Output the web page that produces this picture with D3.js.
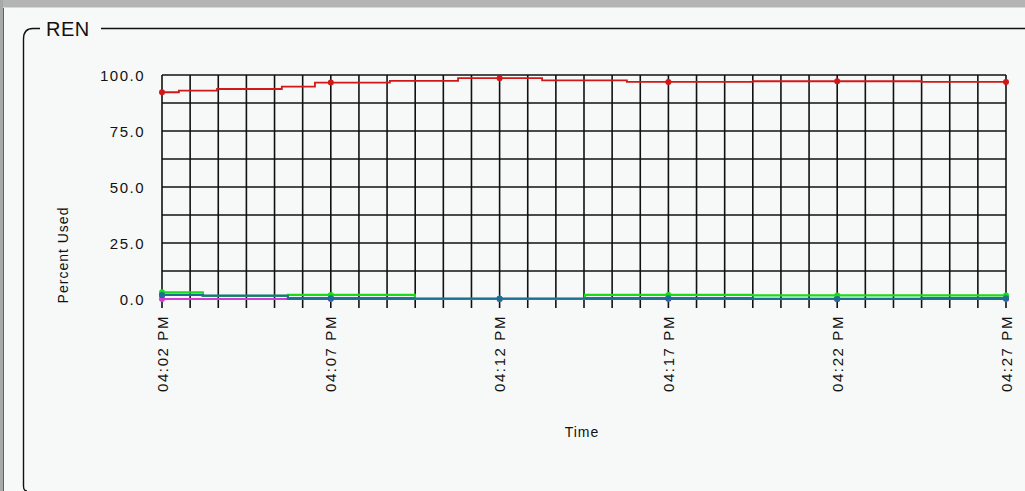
<!DOCTYPE html>
<html><head><meta charset="utf-8">
<script src="https://cdn.jsdelivr.net/npm/d3@7"></script>
<style>
html,body{margin:0;padding:0;background:#f6f9f7;}
text{font-family:"Liberation Sans",Arial,sans-serif;fill:#111;}
</style></head><body>
<svg id="chart" width="1025" height="491"></svg>
<script>
// ---- data ----
const chartTitle = "REN";
const yTickValues = [0, 25, 50, 75, 100];
const xTickLabelMinutes = [0, 5, 10, 15, 20, 25];   // minutes after 04:02 PM
const redMinutes = [0, 0.5, 1.63, 3.55, 4.53, 6.75, 8.77, 11.26, 13.77, 17.5, 22.5, 25];
const redValues  = [92.3, 93.0, 93.75, 94.8, 96.6, 97.4, 98.6, 97.6, 96.9, 97.2, 96.9, 96.9];
const lowMinutes = [0, 1.21, 3.73, 7.49, 12.53, 17.5, 22.5, 25];
const magentaValues = [0, 0, 0, 0, 0, 0, 0, 0];
const purpleValues  = [1.8, 1.4, 0.3, 0.1, 0.3, 0.1, 0.3, 0.3];
const greenValues   = [3.0, 1.4, 1.8, 0.1, 1.8, 1.6, 1.6, 1.6];
const tealValues    = [1.8, 1.4, 0.3, 0.1, 0.3, 0.0, 0.3, 0.3];

const base = new Date(2000, 0, 1, 16, 2, 0);
const t = m => new Date(base.getTime() + m * 60000);

const svg = d3.select("#chart");
const W = 1025, H = 491;

// frame
svg.append("rect").attr("x",0).attr("y",0).attr("width",W).attr("height",H).attr("fill","#f6f9f7");
svg.append("rect").attr("x",0).attr("y",0).attr("width",W).attr("height",7).attr("fill","#b4b4b4");
svg.append("rect").attr("x",0).attr("y",0).attr("width",3).attr("height",H).attr("fill","#a8a8a8");
svg.append("line").attr("x1",3.5).attr("x2",3.5).attr("y1",7).attr("y2",H).attr("stroke","#606060");
svg.append("line").attr("x1",3).attr("x2",W).attr("y1",7.5).attr("y2",7.5).attr("stroke","#d8d8d8");

// group box
svg.append("path")
  .attr("d","M40,28.5 H33 Q23.5,28.5 23.5,39 V486 Q23.5,491 27,491 M101,28.5 H1025")
  .attr("fill","none").attr("stroke","#111").attr("stroke-width",1.4);
svg.append("text").attr("x",46).attr("y",36).attr("font-size",20).attr("letter-spacing","0.5px").text(chartTitle);

// scales
const x = d3.scaleTime().domain([t(0), t(25)]).range([162, 1006]);
const y = d3.scaleLinear().domain([0, 100]).range([299, 75]);

// grid
const g = svg.append("g");
const vLines = d3.range(0, 31).map(i => t(i * 25 / 30));
g.selectAll("line.v").data(vLines).join("line")
  .attr("x1", d => x(d)).attr("x2", d => x(d)).attr("y1", 75).attr("y2", 308)
  .attr("stroke","#111").attr("stroke-width",1.6);
const hLines = d3.range(0, 9).map(i => i * 12.5);
g.selectAll("line.h").data(hLines).join("line")
  .attr("x1", 162).attr("x2", 1006).attr("y1", d => y(d)).attr("y2", d => y(d))
  .attr("stroke","#111").attr("stroke-width",1.6);

// y tick labels
svg.selectAll("text.yl").data(yTickValues).join("text")
  .attr("x", 145).attr("y", d => y(d)).attr("text-anchor","end").attr("dominant-baseline","central")
  .attr("font-size",15).attr("letter-spacing","1.5px").text(d => d.toFixed(1));

// x tick labels
const fmt = d3.timeFormat("%I:%M %p");
svg.selectAll("text.xl").data(xTickLabelMinutes).join("text")
  .attr("transform", d => `translate(${x(t(d))},315) rotate(-90)`)
  .attr("text-anchor","end").attr("dominant-baseline","central")
  .attr("font-size",15).attr("letter-spacing","1.6px").text(d => fmt(t(d)));

// axis titles
svg.append("text").attr("x",582).attr("y",432).attr("text-anchor","middle").attr("dominant-baseline","central")
  .attr("font-size",14).attr("letter-spacing","1px").text("Time");
svg.append("text").attr("transform","translate(63,255) rotate(-90)").attr("text-anchor","middle")
  .attr("dominant-baseline","central").attr("font-size",14).attr("letter-spacing","1px").text("Percent Used");

// series
const stepVal = (mins, vals, m) => { let v = vals[0]; for (let i = 0; i < mins.length; i++) if (mins[i] <= m + 1e-9) v = vals[i]; return v; };
const series = [
  {mins: lowMinutes, vals: magentaValues, color: "#d23cd2", w: 2.2},
  {mins: lowMinutes, vals: purpleValues,  color: "#5a1ad0", w: 2.2},
  {mins: lowMinutes, vals: greenValues,   color: "#19dc19", w: 2.2},
  {mins: lowMinutes, vals: tealValues,    color: "#1d6f95", w: 2.0},
  {mins: redMinutes, vals: redValues,     color: "#d01818", w: 1.8}
];
const line = d3.line().x(d => x(t(d[0]))).y(d => y(d[1])).curve(d3.curveStepAfter);
series.forEach(s => {
  const pts = s.mins.map((m, i) => [m, s.vals[i]]);
  svg.append("path").attr("d", line(pts)).attr("fill","none").attr("stroke", s.color).attr("stroke-width", s.w);
  svg.append("g").selectAll("circle").data(xTickLabelMinutes).join("circle")
    .attr("cx", d => x(t(d))).attr("cy", d => y(stepVal(s.mins, s.vals, d))).attr("r", 3)
    .attr("fill", s.color);
});
</script></body></html>
